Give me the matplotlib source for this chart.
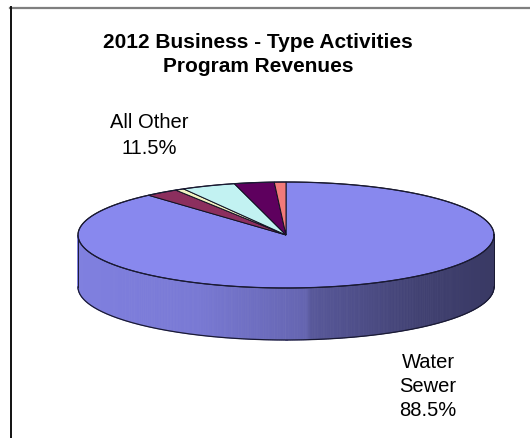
import numpy as np
import matplotlib
matplotlib.use("Agg")
import matplotlib.pyplot as plt
from matplotlib.patches import Polygon
from matplotlib.lines import Line2D

# Data
title_lines = ["2012 Business - Type Activities", "Program Revenues"]
categories = ["Water Sewer", "Other 1", "Other 2", "Other 3", "Other 4", "Other 5"]
values = [88.5, 2.6, 0.7, 4.2, 3.1, 0.9]
colors = ["#8888EE", "#8C2F5E", "#F2F2C2", "#C2F2F2", "#5E005E", "#F27A7A"]
main_label = ["Water", "Sewer"]
other_label = ["All Other"]

plt.rcParams["font.family"] = ["Liberation Sans", "DejaVu Sans"]

fig = plt.figure(figsize=(5.3, 4.38), dpi=100)
ax = fig.add_axes([0, 0, 1, 1])
ax.set_xlim(0, 530)
ax.set_ylim(438, 0)
ax.axis("off")

# Pie geometry (pixel space)
cx, cy, rx, ry, depth = 286.0, 235.0, 208.0, 53.0, 52.0


def ex(t):
    return cx + rx * np.cos(np.radians(t))


def ey(t):
    return cy - ry * np.sin(np.radians(t))


vals = np.array(values, dtype=float)
frac = vals / vals.sum()
cum = np.concatenate([[0], np.cumsum(frac)])
starts = 90 - 360 * cum[:-1]
ends = 90 - 360 * cum[1:]

# Side shading profile across the width of the pie
su = [0.0, 0.29, 0.55, 0.56, 0.82, 1.0]
sf = [0.94, 0.89, 0.74, 0.65, 0.48, 0.42]


def shade(color, x):
    u = (x - (cx - rx)) / (2 * rx)
    f = np.interp(u, su, sf)
    rgb = np.array(matplotlib.colors.to_rgb(color))
    return tuple(np.clip(rgb * f, 0, 1))


# Front side wall, slice by slice
for s, e, c in zip(starts, ends, colors):
    lo, hi = min(s, e), max(s, e)
    for k in range(-1, 2):
        a = max(lo, 180 + 360 * k)
        b = min(hi, 360 + 360 * k)
        if b <= a:
            continue
        ts = np.linspace(a, b, max(2, int((b - a) * 2)))
        for t0, t1 in zip(ts[:-1], ts[1:]):
            xm = ex(0.5 * (t0 + t1))
            col = shade(c, xm)
            quad = [(ex(t0), ey(t0)), (ex(t1), ey(t1)),
                    (ex(t1), ey(t1) + depth), (ex(t0), ey(t0) + depth)]
            ax.add_patch(Polygon(quad, closed=True, facecolor=col,
                                 edgecolor=col, linewidth=0.6, zorder=1))

# Side outline
tb = np.linspace(180, 360, 400)
ax.add_line(Line2D(ex(tb), ey(tb) + depth, color="#1a1a33", lw=0.9, zorder=3))
ax.add_line(Line2D([ex(180), ex(180)], [ey(180), ey(180) + depth],
                   color="#1a1a33", lw=0.7, zorder=3))
ax.add_line(Line2D([ex(360), ex(360)], [ey(360), ey(360) + depth],
                   color="#1a1a33", lw=0.7, zorder=3))

# Top face slices
for s, e, c in zip(starts, ends, colors):
    ts = np.linspace(s, e, max(3, int(abs(e - s) * 3)))
    pts = [(cx, cy)] + [(ex(t), ey(t)) for t in ts]
    ax.add_patch(Polygon(pts, closed=True, facecolor=c, edgecolor="#111122",
                         linewidth=0.7, joinstyle="miter", zorder=4))

ta = np.linspace(0, 360, 720)
ax.add_line(Line2D(ex(ta), ey(ta), color="#1a1a33", lw=0.9, zorder=5))

# Frame lines
ax.add_line(Line2D([10, 530], [7.5, 7.5], color="#7f7f7f", lw=1.6, zorder=6))
ax.add_line(Line2D([10.5, 10.5], [6.7, 438], color="#111111", lw=1.4, zorder=6))

# Title
ax.text(258, 43, title_lines[0], ha="center", va="center", fontsize=15,
        fontweight="bold", color="black")
ax.text(258, 67, title_lines[1], ha="center", va="center", fontsize=15,
        fontweight="bold", color="black")

# Data labels
other_pct = f"{vals[1:].sum():.1f}%"
main_pct = f"{vals[0]:.1f}%"
ax.text(149, 123, other_label[0], ha="center", va="center", fontsize=14.5)
ax.text(149, 148, other_pct, ha="center", va="center", fontsize=14.5)
ax.text(428, 362, main_label[0], ha="center", va="center", fontsize=14.5)
ax.text(428, 387, main_label[1], ha="center", va="center", fontsize=14.5)
ax.text(428, 411, main_pct, ha="center", va="center", fontsize=14.5)

fig.savefig("out.png", dpi=100)
